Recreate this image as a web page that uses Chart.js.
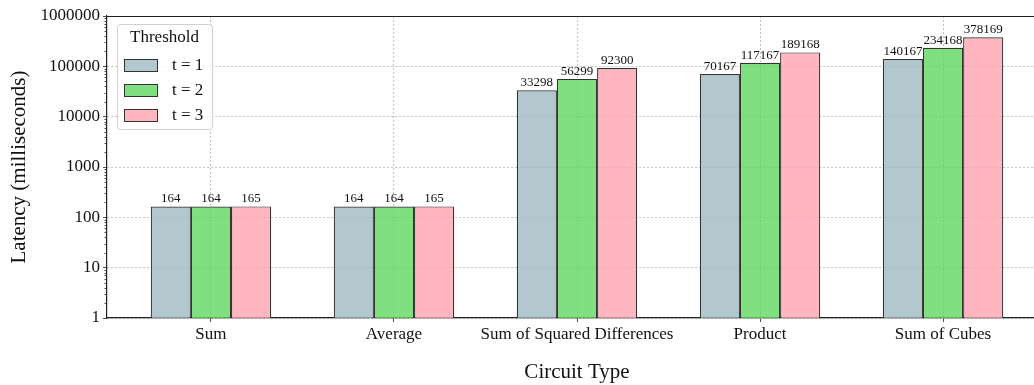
<!DOCTYPE html>
<html>
<head>
<meta charset="utf-8">
<script src="https://cdn.jsdelivr.net/npm/chart.js@4.4.0/dist/chart.umd.min.js"></script>
<style>
  html, body { margin: 0; padding: 0; background: #fff; overflow: hidden; }
  #wrap { width: 1055px; height: 385px; }
</style>
</head>
<body>
<div id="wrap"><canvas id="chart"></canvas></div>
<script>
// data
var categories = ['Sum', 'Average', 'Sum of Squared Differences', 'Product', 'Sum of Cubes'];
var seriesNames = ['t = 1', 't = 2', 't = 3'];
var t1 = [164, 164, 33298, 70167, 140167];
var t2 = [164, 164, 56299, 117167, 234168];
var t3 = [165, 165, 92300, 189168, 378169];
var yTicks = [1, 10, 100, 1000, 10000, 100000, 1000000];

var fills = ['rgba(160,185,195,0.8)', 'rgba(96,216,96,0.8)', 'rgba(255,164,178,0.8)'];
var FONT = "'Liberation Serif', 'Times New Roman', serif";

function toPoints(arr) {
  return arr.map(function(v, i) { return {x: i, y: v}; });
}

var datasets = [t1, t2, t3].map(function(arr, k) {
  return {
    label: seriesNames[k],
    data: toPoints(arr),
    backgroundColor: fills[k],
    borderColor: '#333',
    borderWidth: 1.2,
    categoryPercentage: 0.658,
    barPercentage: 1.0
  };
});

// value labels above bars, minor log ticks, top spine, legend box
var extras = {
  id: 'extras',
  afterDatasetsDraw: function(chart) {
    var ctx = chart.ctx;
    ctx.save();
    ctx.font = '13px ' + FONT;
    ctx.fillStyle = '#111';
    ctx.textAlign = 'center';
    ctx.textBaseline = 'bottom';
    chart.data.datasets.forEach(function(ds, k) {
      chart.getDatasetMeta(k).data.forEach(function(el, i) {
        ctx.fillText(String(ds.data[i].y), el.x, el.y - 1);
      });
    });
    ctx.restore();
  },
  afterDraw: function(chart) {
    var ctx = chart.ctx, a = chart.chartArea, y = chart.scales.y;
    ctx.save();
    ctx.setLineDash([]);
    // top spine
    ctx.strokeStyle = '#222';
    ctx.lineWidth = 1.2;
    ctx.beginPath();
    ctx.moveTo(a.left, a.top + 0.5);
    ctx.lineTo(a.right + 10, a.top + 0.5);
    ctx.stroke();
    // minor ticks
    ctx.lineWidth = 0.8;
    for (var d = 1; d < 1000000; d *= 10) {
      for (var m = 2; m < 10; m++) {
        var py = Math.round(y.getPixelForValue(d * m)) + 0.5;
        ctx.beginPath();
        ctx.moveTo(a.left - 2.5, py);
        ctx.lineTo(a.left, py);
        ctx.stroke();
      }
    }
    // legend
    var bx = 117, by = 24, bw = 95, bh = 105;
    ctx.fillStyle = 'rgba(255,255,255,0.85)';
    ctx.strokeStyle = '#d0d0d0';
    ctx.lineWidth = 1;
    ctx.beginPath();
    ctx.roundRect(bx + 0.5, by + 0.5, bw, bh, 3);
    ctx.fill();
    ctx.stroke();
    ctx.fillStyle = '#111';
    ctx.font = '17px ' + FONT;
    ctx.textAlign = 'center';
    ctx.textBaseline = 'middle';
    ctx.fillText('Threshold', bx + bw / 2, by + 14);
    ctx.textAlign = 'left';
    chart.data.datasets.forEach(function(ds, k) {
      var ry = 65 + k * 25;
      ctx.fillStyle = ds.backgroundColor;
      ctx.fillRect(124, ry - 6, 34, 13);
      ctx.strokeStyle = '#333';
      ctx.strokeRect(124.5, ry - 5.5, 33, 12);
      ctx.fillStyle = '#111';
      ctx.fillText(ds.label, 172, ry + 1);
    });
    ctx.restore();
  }
};

new Chart(document.getElementById('chart'), {
  type: 'bar',
  data: { datasets: datasets },
  options: {
    responsive: true,
    maintainAspectRatio: false,
    animation: false,
    layout: { padding: { top: 16, right: 8, left: 0, bottom: 0 } },
    plugins: { legend: { display: false }, tooltip: { enabled: false } },
    scales: {
      x: {
        type: 'linear',
        min: -0.568,
        max: 4.568,
        offset: false,
        afterBuildTicks: function(scale) {
          scale.ticks = categories.map(function(c, i) { return {value: i}; });
        },
        afterFit: function(scale) { scale.height = 67; },
        ticks: {
          autoSkip: false,
          maxRotation: 0,
          padding: 2,
          color: '#111',
          font: { family: FONT, size: 17 },
          callback: function(v) { return categories[v]; }
        },
        grid: {
          offset: false,
          color: '#b0b0b0',
          lineWidth: 0.8,
          tickBorderDash: [],
          tickColor: '#222',
          tickLength: 4
        },
        border: { color: '#222', width: 1.2, dash: [2, 2] },
        title: {
          display: true,
          text: 'Circuit Type',
          color: '#111',
          font: { family: FONT, size: 21 },
          padding: { top: 0, bottom: 0 }
        }
      },
      y: {
        type: 'logarithmic',
        min: 1,
        max: 1000000,
        afterBuildTicks: function(scale) {
          scale.ticks = yTicks.map(function(v) { return {value: v}; });
        },
        afterFit: function(scale) { scale.width = 107; },
        ticks: {
          padding: 3,
          color: '#111',
          font: { family: FONT, size: 17 },
          callback: function(v) { return String(v); }
        },
        grid: {
          color: '#b0b0b0',
          lineWidth: 0.8,
          tickBorderDash: [],
          tickColor: '#222',
          tickLength: 4
        },
        border: { color: '#222', width: 1.2, dash: [2, 2] },
        title: {
          display: true,
          text: 'Latency (milliseconds)',
          color: '#111',
          font: { family: FONT, size: 21 },
          padding: { top: 7, bottom: 7 }
        }
      }
    }
  },
  plugins: [extras]
});
</script>
</body>
</html>
